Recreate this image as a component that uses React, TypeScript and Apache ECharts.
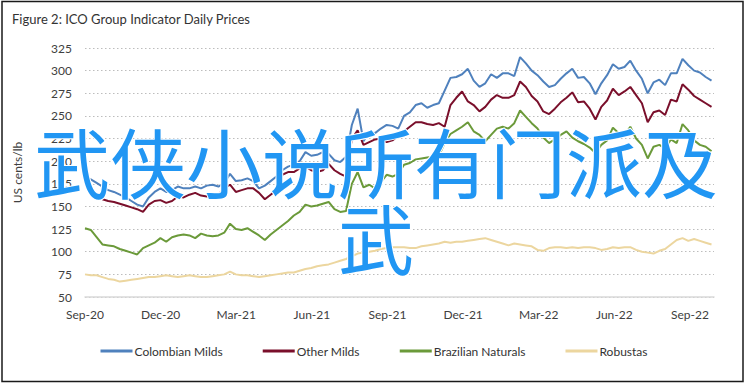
import React, { useEffect, useRef } from "react";
import * as echarts from "echarts";

const TITLE = "Figure 2: ICO Group Indicator Daily Prices";
const Y_NAME = "US cents/lb";
const X_LABELS = ["Sep-20", "Dec-20", "Mar-21", "Jun-21", "Sep-21", "Dec-21", "Mar-22", "Jun-22", "Sep-22"];
const SERIES_NAMES = ["Colombian Milds", "Other Milds", "Brazilian Naturals", "Robustas"];
// weekly observations starting 1 Sep 2020 (days since start = index * 7)
const STEP_DAYS = 7;

const colombianMilds = [
  183, 180, 176, 172, 168, 166, 163, 160, 156, 152,
  150, 160, 166, 170, 166, 168, 172, 170, 170, 172,
  170, 173, 174, 172, 176, 186, 178, 179, 181, 178,
  170, 173, 178, 183, 190, 194, 196, 200, 210, 206,
  207, 210, 208, 201, 199, 205, 240, 258, 222, 232,
  231, 236, 240, 239, 236, 250, 254, 262, 264, 259,
  262, 264, 278, 292, 293, 296, 302, 289, 282, 286,
  296, 292, 297, 297, 294, 315, 308, 300, 295, 288,
  282, 284, 291, 297, 302, 292, 293, 286, 274, 286,
  295, 307, 302, 304, 311, 300, 291, 275, 287, 290,
  284, 297, 297, 313, 306, 300, 298, 293, 289,
];

const otherMilds = [
  178, 172, 162, 158, 156, 155, 153, 151, 149, 147,
  144, 152, 156, 157, 154, 156, 161, 160, 163, 165,
  162, 161, 162, 163, 170, 174, 166, 168, 170, 170,
  165, 158, 163, 168, 185, 188, 188, 192, 194, 190,
  188, 190, 197, 190, 186, 183, 225, 234, 218, 221,
  224, 225, 221, 223, 228, 233, 238, 243, 243, 241,
  240, 242, 238, 262, 270, 277, 266, 262, 255, 260,
  268, 273, 270, 270, 273, 288, 282, 272, 266, 255,
  252, 258, 265, 270, 276, 265, 266, 258, 246, 260,
  267, 280, 273, 277, 282, 273, 264, 243, 254, 256,
  251, 268, 266, 285, 279, 272, 268, 264, 260,
];

const brazilianNaturals = [
  126, 124, 116, 108, 107, 106, 103, 101, 99, 97,
  104, 107, 110, 115, 111, 116, 118, 119, 118, 115,
  120, 118, 117, 118, 121, 131, 125, 124, 126, 122,
  118, 113, 119, 124, 129, 134, 140, 144, 152, 150,
  151, 153, 155, 147, 144, 145, 175, 188, 171, 174,
  170, 177, 185, 183, 186, 196, 198, 202, 203, 204,
  205, 206, 220, 230, 234, 238, 243, 233, 229, 222,
  229, 236, 238, 236, 242, 256, 249, 242, 236, 226,
  220, 224, 229, 233, 226, 222, 219, 215, 209, 218,
  223, 237, 231, 229, 238, 225, 218, 203, 216, 218,
  214, 224, 220, 241, 234, 223, 218, 216, 211,
];

const robustas = [
  75, 74, 74, 72, 70, 69, 67, 68, 69, 70,
  71, 72, 72, 73, 74, 73, 72, 73, 74, 73,
  72, 72, 73, 74, 75, 78, 75, 74, 74, 73,
  72, 73, 74, 75, 76, 77, 77, 79, 81, 82,
  84, 85, 86, 88, 90, 92, 95, 98, 99, 100,
  101, 103, 104, 105, 105, 105, 104, 104, 106, 107,
  108, 109, 111, 110, 111, 111, 112, 113, 114, 115,
  113, 111, 109, 107, 109, 108, 107, 106, 102, 101,
  104, 105, 105, 104, 105, 104, 105, 105, 104, 102,
  103, 105, 104, 105, 105, 102, 100, 99, 98, 101,
  103, 108, 113, 115, 112, 114, 112, 110, 108,
];

const COLORS = ["#4f81bd", "#7a0f2b", "#6b9a3a", "#ecd69f"];
const WATERMARK = "武侠小说所有门派及\n武";

const toPairs = (vals: number[]) => vals.map((v, i) => [i * STEP_DAYS, v]);

export default function App() {
  const ref = useRef<HTMLDivElement>(null);
  useEffect(() => {
    document.body.style.margin = "0";
    if (!ref.current) return;
    const chart = echarts.init(ref.current, undefined, { renderer: "svg" });
    const quarter = 91.25;
    const allSeries = [colombianMilds, otherMilds, brazilianNaturals, robustas];
    chart.setOption({
      animation: false,
      backgroundColor: "#ffffff",
      textStyle: { fontFamily: "Lato, 'Open Sans', sans-serif" },
      title: {
        text: TITLE,
        left: 7,
        top: 7,
        textStyle: { fontSize: 13, fontWeight: "normal", color: "#333333", fontFamily: "Lato, sans-serif" },
      },
      legend: {
        top: 340,
        left: "center",
        itemGap: 40,
        itemWidth: 32,
        itemHeight: 3,
        icon: "rect",
        textStyle: { fontSize: 12, color: "#333333", padding: [0, 0, 0, -3] },
        data: SERIES_NAMES,
      },
      grid: { left: 85, right: 34, top: 48, bottom: 90 },
      xAxis: {
        type: "value",
        min: 0,
        max: 759,
        interval: quarter,
        axisLine: { show: true, lineStyle: { color: "#d9d9d9", width: 1.5 } },
        axisTick: { show: false },
        splitLine: { show: false },
        axisLabel: {
          margin: 11,
          fontSize: 12,
          color: "#404040",
          showMaxLabel: false,
          formatter: (v: number) => {
            const k = Math.round(v / quarter);
            if (Math.abs(v - k * quarter) > 0.01) return "";
            return X_LABELS[k] ?? "";
          },
        },
      },
      yAxis: {
        type: "value",
        min: 50,
        max: 325,
        interval: 25,
        name: Y_NAME,
        nameLocation: "middle",
        nameGap: 62,
        nameTextStyle: { fontSize: 12, color: "#404040" },
        axisLine: { show: false },
        axisTick: { show: false },
        axisLabel: { margin: 13, fontSize: 12, color: "#404040" },
        splitLine: { show: true, lineStyle: { color: "#bdbdbd", width: 1, type: [1.5, 2.5] } },
      },
      series: allSeries.map((vals, idx) => ({
        name: SERIES_NAMES[idx],
        type: "line",
        data: toPairs(vals),
        showSymbol: false,
        symbol: "none",
        lineStyle: { color: COLORS[idx], width: 2 },
        itemStyle: { color: COLORS[idx] },
        z: 2,
      })),
      graphic: [
        {
          type: "rect",
          silent: true,
          shape: { x: 2, y: 1.5, width: 741, height: 380 },
          style: { fill: "none", stroke: "#1a1a1a", lineWidth: 1.5 },
          z: 50,
        },
        {
          type: "text",
          silent: true,
          x: 376,
          y: 122,
          z: 100,
          style: {
            text: WATERMARK,
            fill: "#2196f3",
            stroke: "#ffffff",
            lineWidth: 2,
            font: "76px 'Noto Sans CJK SC'",
            textAlign: "center",
            textVerticalAlign: "top",
            lineHeight: 76,
          },
        },
      ],
    });
    return () => chart.dispose();
  }, []);
  return <div ref={ref} style={{ width: 748, height: 387 }} />;
}
